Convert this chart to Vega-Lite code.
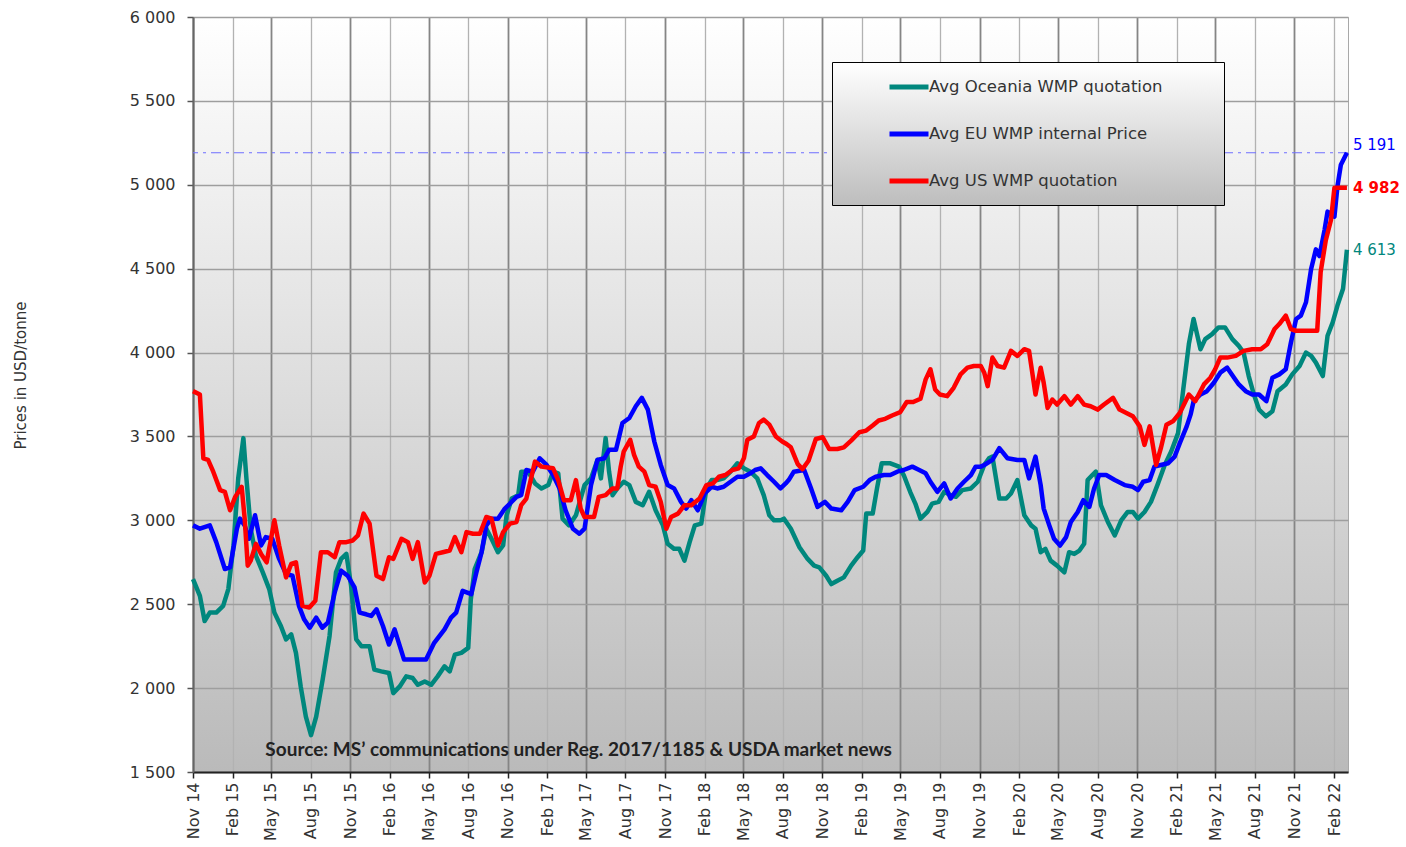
{
  "$schema": "https://vega.github.io/schema/vega-lite/v6.json",
  "width": 1155,
  "height": 755,
  "autosize": "none",
  "padding": {"left": 193, "top": 17, "right": 58, "bottom": 75},
  "background": "white",
  "view": {
    "fill": {"gradient": "linear", "x1": 0, "y1": 0, "x2": 0, "y2": 1,
      "stops": [{"offset": 0, "color": "#ffffff"}, {"offset": 1, "color": "#bababa"}]},
    "stroke": "#a8a8a8",
    "strokeWidth": 1
  },
  "config": {
    "font": "DejaVu Sans",
    "axis": {"labelFont": "DejaVu Sans", "labelColor": "#333333", "titleColor": "#333333"}
  },
  "datasets": {
    "ends": [
      {"s": "EU", "d": "2022-03-03", "v": 5191, "t": "5 191"},
      {"s": "US", "d": "2022-03-03", "v": 4982, "t": "4 982"},
      {"s": "Oceania", "d": "2022-03-03", "v": 4613, "t": "4 613"}
    ],
    "source": [
      {"d": "2015-04-18", "v": 1631, "t": "Source: MS’ communications under Reg. 2017/1185  & USDA market news"}
    ],
    "oceania": [
      {"d":"2014-11-01","v":2650},{"d":"2014-11-17","v":2550},{"d":"2014-11-28","v":2400},{"d":"2014-12-10","v":2450},{"d":"2014-12-25","v":2450},
      {"d":"2015-01-10","v":2490},{"d":"2015-01-22","v":2590},{"d":"2015-02-03","v":2850},{"d":"2015-02-14","v":3250},{"d":"2015-02-26","v":3490},
      {"d":"2015-03-05","v":3250},{"d":"2015-03-15","v":2950},{"d":"2015-03-27","v":2790},{"d":"2015-04-12","v":2690},{"d":"2015-04-27","v":2590},
      {"d":"2015-05-09","v":2450},{"d":"2015-05-24","v":2370},{"d":"2015-06-05","v":2290},{"d":"2015-06-17","v":2320},{"d":"2015-06-28","v":2210},
      {"d":"2015-07-09","v":2010},{"d":"2015-07-21","v":1830},{"d":"2015-08-02","v":1720},{"d":"2015-08-14","v":1830},{"d":"2015-08-29","v":2050},
      {"d":"2015-09-14","v":2310},{"d":"2015-09-29","v":2690},{"d":"2015-10-11","v":2770},{"d":"2015-10-23","v":2800},{"d":"2015-11-03","v":2610},
      {"d":"2015-11-15","v":2290},{"d":"2015-11-27","v":2250},{"d":"2015-12-16","v":2250},{"d":"2015-12-27","v":2110},{"d":"2016-01-12","v":2100},
      {"d":"2016-01-30","v":2090},{"d":"2016-02-09","v":1970},{"d":"2016-02-24","v":2010},{"d":"2016-03-10","v":2070},{"d":"2016-03-25","v":2060},
      {"d":"2016-04-06","v":2020},{"d":"2016-04-22","v":2040},{"d":"2016-05-07","v":2020},{"d":"2016-05-22","v":2070},{"d":"2016-06-07","v":2130},
      {"d":"2016-06-19","v":2100},{"d":"2016-07-01","v":2200},{"d":"2016-07-16","v":2210},{"d":"2016-08-01","v":2240},{"d":"2016-08-07","v":2530},
      {"d":"2016-08-16","v":2710},{"d":"2016-09-01","v":2810},{"d":"2016-09-12","v":2950},{"d":"2016-09-24","v":2890},{"d":"2016-10-09","v":2810},
      {"d":"2016-10-21","v":2850},{"d":"2016-10-29","v":3030},{"d":"2016-11-10","v":3130},{"d":"2016-11-25","v":3150},{"d":"2016-12-02","v":3290},
      {"d":"2016-12-18","v":3290},{"d":"2017-01-03","v":3220},{"d":"2017-01-18","v":3190},{"d":"2017-02-03","v":3210},{"d":"2017-02-14","v":3290},
      {"d":"2017-02-26","v":3280},{"d":"2017-03-08","v":3010},{"d":"2017-03-23","v":2970},{"d":"2017-04-08","v":3030},{"d":"2017-04-19","v":3130},
      {"d":"2017-04-28","v":3210},{"d":"2017-05-13","v":3250},{"d":"2017-05-28","v":3360},{"d":"2017-06-05","v":3250},{"d":"2017-06-16","v":3490},
      {"d":"2017-06-24","v":3290},{"d":"2017-07-02","v":3150},{"d":"2017-07-13","v":3190},{"d":"2017-07-28","v":3230},{"d":"2017-08-10","v":3210},
      {"d":"2017-08-25","v":3110},{"d":"2017-09-10","v":3090},{"d":"2017-09-25","v":3170},{"d":"2017-10-10","v":3060},{"d":"2017-10-27","v":2970},
      {"d":"2017-11-07","v":2860},{"d":"2017-11-22","v":2830},{"d":"2017-12-04","v":2830},{"d":"2017-12-16","v":2760},{"d":"2017-12-28","v":2870},
      {"d":"2018-01-09","v":2970},{"d":"2018-01-24","v":2980},{"d":"2018-02-05","v":3190},{"d":"2018-02-17","v":3240},{"d":"2018-03-02","v":3240},
      {"d":"2018-03-17","v":3250},{"d":"2018-04-02","v":3290},{"d":"2018-04-18","v":3340},{"d":"2018-05-03","v":3310},{"d":"2018-05-18","v":3290},
      {"d":"2018-06-03","v":3250},{"d":"2018-06-18","v":3150},{"d":"2018-07-01","v":3030},{"d":"2018-07-12","v":3000},{"d":"2018-07-27","v":3000},
      {"d":"2018-08-04","v":3010},{"d":"2018-08-20","v":2950},{"d":"2018-09-09","v":2840},{"d":"2018-09-28","v":2770},{"d":"2018-10-13","v":2730},
      {"d":"2018-10-25","v":2720},{"d":"2018-11-10","v":2670},{"d":"2018-11-22","v":2620},{"d":"2018-12-06","v":2640},{"d":"2018-12-21","v":2660},
      {"d":"2019-01-07","v":2730},{"d":"2019-01-22","v":2780},{"d":"2019-02-04","v":2820},{"d":"2019-02-11","v":3040},{"d":"2019-02-26","v":3040},
      {"d":"2019-03-08","v":3190},{"d":"2019-03-19","v":3340},{"d":"2019-04-08","v":3340},{"d":"2019-04-28","v":3320},{"d":"2019-05-09","v":3270},
      {"d":"2019-05-24","v":3170},{"d":"2019-06-05","v":3100},{"d":"2019-06-17","v":3010},{"d":"2019-07-03","v":3050},{"d":"2019-07-14","v":3100},
      {"d":"2019-07-29","v":3110},{"d":"2019-08-11","v":3170},{"d":"2019-08-26","v":3150},{"d":"2019-09-07","v":3140},{"d":"2019-09-22","v":3180},
      {"d":"2019-10-12","v":3190},{"d":"2019-10-28","v":3230},{"d":"2019-11-12","v":3330},{"d":"2019-11-23","v":3370},{"d":"2019-12-01","v":3380},
      {"d":"2019-12-17","v":3130},{"d":"2020-01-02","v":3130},{"d":"2020-01-13","v":3160},{"d":"2020-01-28","v":3240},{"d":"2020-02-13","v":3030},
      {"d":"2020-02-29","v":2970},{"d":"2020-03-10","v":2950},{"d":"2020-03-22","v":2810},{"d":"2020-04-02","v":2830},{"d":"2020-04-14","v":2760},
      {"d":"2020-04-29","v":2730},{"d":"2020-05-16","v":2690},{"d":"2020-05-27","v":2810},{"d":"2020-06-08","v":2800},{"d":"2020-06-20","v":2820},
      {"d":"2020-07-01","v":2860},{"d":"2020-07-09","v":3240},{"d":"2020-07-20","v":3270},{"d":"2020-07-28","v":3290},{"d":"2020-08-09","v":3090},
      {"d":"2020-08-25","v":2990},{"d":"2020-09-10","v":2910},{"d":"2020-09-25","v":3000},{"d":"2020-10-10","v":3050},{"d":"2020-10-22","v":3050},
      {"d":"2020-11-03","v":3010},{"d":"2020-11-18","v":3050},{"d":"2020-12-03","v":3110},{"d":"2020-12-18","v":3210},{"d":"2021-01-04","v":3330},
      {"d":"2021-01-19","v":3410},{"d":"2021-02-04","v":3520},{"d":"2021-02-16","v":3780},{"d":"2021-03-01","v":4050},{"d":"2021-03-12","v":4200},
      {"d":"2021-03-28","v":4020},{"d":"2021-04-08","v":4080},{"d":"2021-04-24","v":4110},{"d":"2021-05-09","v":4150},{"d":"2021-05-24","v":4150},
      {"d":"2021-06-10","v":4080},{"d":"2021-06-25","v":4040},{"d":"2021-07-06","v":4000},{"d":"2021-07-18","v":3860},{"d":"2021-07-30","v":3750},
      {"d":"2021-08-11","v":3660},{"d":"2021-08-27","v":3620},{"d":"2021-09-11","v":3650},{"d":"2021-09-23","v":3770},{"d":"2021-10-12","v":3810},
      {"d":"2021-10-27","v":3870},{"d":"2021-11-13","v":3920},{"d":"2021-11-28","v":4000},{"d":"2021-12-10","v":3980},{"d":"2021-12-21","v":3940},
      {"d":"2022-01-06","v":3860},{"d":"2022-01-17","v":4100},{"d":"2022-01-29","v":4180},{"d":"2022-02-09","v":4280},{"d":"2022-02-22","v":4380},
      {"d":"2022-03-03","v":4613}
    ],
    "eu": [
      {"d":"2014-11-01","v":2970},{"d":"2014-11-17","v":2950},{"d":"2014-12-10","v":2970},{"d":"2014-12-25","v":2870},{"d":"2015-01-14","v":2710},
      {"d":"2015-01-26","v":2720},{"d":"2015-02-11","v":2950},{"d":"2015-02-18","v":3010},{"d":"2015-03-01","v":2970},{"d":"2015-03-11","v":2890},
      {"d":"2015-03-25","v":3030},{"d":"2015-04-08","v":2850},{"d":"2015-04-19","v":2900},{"d":"2015-05-04","v":2890},{"d":"2015-05-20","v":2770},
      {"d":"2015-06-05","v":2680},{"d":"2015-06-20","v":2670},{"d":"2015-07-05","v":2490},{"d":"2015-07-17","v":2410},{"d":"2015-07-30","v":2360},
      {"d":"2015-08-14","v":2420},{"d":"2015-08-28","v":2360},{"d":"2015-09-10","v":2390},{"d":"2015-09-26","v":2570},{"d":"2015-10-11","v":2700},
      {"d":"2015-10-26","v":2670},{"d":"2015-11-11","v":2600},{"d":"2015-11-23","v":2450},{"d":"2015-12-08","v":2440},{"d":"2015-12-20","v":2430},
      {"d":"2016-01-01","v":2470},{"d":"2016-01-16","v":2370},{"d":"2016-01-30","v":2260},{"d":"2016-02-12","v":2350},{"d":"2016-03-05","v":2170},
      {"d":"2016-03-21","v":2170},{"d":"2016-04-25","v":2170},{"d":"2016-05-14","v":2270},{"d":"2016-06-07","v":2350},{"d":"2016-06-22","v":2420},
      {"d":"2016-07-04","v":2450},{"d":"2016-07-19","v":2580},{"d":"2016-08-08","v":2560},{"d":"2016-08-20","v":2690},{"d":"2016-09-01","v":2810},
      {"d":"2016-09-12","v":2970},{"d":"2016-09-24","v":3010},{"d":"2016-10-09","v":3010},{"d":"2016-10-25","v":3070},{"d":"2016-11-06","v":3100},
      {"d":"2016-11-21","v":3140},{"d":"2016-12-02","v":3150},{"d":"2016-12-14","v":3300},{"d":"2016-12-29","v":3290},{"d":"2017-01-14","v":3370},
      {"d":"2017-01-30","v":3330},{"d":"2017-02-14","v":3270},{"d":"2017-03-01","v":3190},{"d":"2017-03-15","v":3060},{"d":"2017-04-01","v":2950},
      {"d":"2017-04-16","v":2920},{"d":"2017-04-28","v":2950},{"d":"2017-05-13","v":3210},{"d":"2017-05-28","v":3360},{"d":"2017-06-13","v":3370},
      {"d":"2017-06-24","v":3420},{"d":"2017-07-10","v":3420},{"d":"2017-07-25","v":3580},{"d":"2017-08-10","v":3610},{"d":"2017-08-25","v":3680},
      {"d":"2017-09-08","v":3730},{"d":"2017-09-22","v":3660},{"d":"2017-10-07","v":3470},{"d":"2017-10-22","v":3330},{"d":"2017-11-07","v":3210},
      {"d":"2017-11-22","v":3190},{"d":"2017-12-08","v":3110},{"d":"2017-12-20","v":3070},{"d":"2018-01-01","v":3120},{"d":"2018-01-16","v":3060},
      {"d":"2018-02-01","v":3160},{"d":"2018-02-17","v":3200},{"d":"2018-03-02","v":3190},{"d":"2018-03-17","v":3200},{"d":"2018-04-02","v":3230},
      {"d":"2018-04-18","v":3260},{"d":"2018-05-03","v":3260},{"d":"2018-05-18","v":3280},{"d":"2018-05-29","v":3300},{"d":"2018-06-11","v":3310},
      {"d":"2018-06-26","v":3270},{"d":"2018-07-12","v":3230},{"d":"2018-07-27","v":3190},{"d":"2018-08-08","v":3220},{"d":"2018-08-15","v":3240},
      {"d":"2018-08-27","v":3290},{"d":"2018-09-20","v":3300},{"d":"2018-10-06","v":3190},{"d":"2018-10-21","v":3080},{"d":"2018-11-07","v":3110},
      {"d":"2018-11-22","v":3070},{"d":"2018-12-15","v":3060},{"d":"2018-12-30","v":3110},{"d":"2019-01-15","v":3180},{"d":"2019-02-04","v":3200},
      {"d":"2019-02-19","v":3240},{"d":"2019-03-05","v":3260},{"d":"2019-03-24","v":3270},{"d":"2019-04-08","v":3270},{"d":"2019-04-24","v":3290},
      {"d":"2019-05-09","v":3300},{"d":"2019-05-29","v":3320},{"d":"2019-06-14","v":3300},{"d":"2019-06-29","v":3280},{"d":"2019-07-10","v":3230},
      {"d":"2019-07-26","v":3170},{"d":"2019-08-11","v":3220},{"d":"2019-08-26","v":3130},{"d":"2019-09-11","v":3190},{"d":"2019-09-26","v":3230},
      {"d":"2019-10-12","v":3270},{"d":"2019-10-23","v":3320},{"d":"2019-11-04","v":3320},{"d":"2019-11-12","v":3330},{"d":"2019-12-01","v":3360},
      {"d":"2019-12-17","v":3430},{"d":"2020-01-05","v":3370},{"d":"2020-01-28","v":3360},{"d":"2020-02-13","v":3360},{"d":"2020-02-24","v":3250},
      {"d":"2020-03-10","v":3380},{"d":"2020-03-22","v":3210},{"d":"2020-03-29","v":3070},{"d":"2020-04-11","v":2970},{"d":"2020-04-22","v":2890},
      {"d":"2020-05-06","v":2850},{"d":"2020-05-20","v":2900},{"d":"2020-05-31","v":2990},{"d":"2020-06-16","v":3050},{"d":"2020-06-29","v":3120},
      {"d":"2020-07-13","v":3080},{"d":"2020-07-24","v":3190},{"d":"2020-08-05","v":3270},{"d":"2020-08-21","v":3270},{"d":"2020-09-10","v":3240},
      {"d":"2020-10-03","v":3210},{"d":"2020-10-22","v":3200},{"d":"2020-11-03","v":3180},{"d":"2020-11-15","v":3230},{"d":"2020-11-30","v":3240},
      {"d":"2020-12-11","v":3320},{"d":"2020-12-26","v":3330},{"d":"2021-01-12","v":3340},{"d":"2021-01-27","v":3380},{"d":"2021-02-08","v":3460},
      {"d":"2021-02-24","v":3560},{"d":"2021-03-05","v":3630},{"d":"2021-03-12","v":3710},{"d":"2021-03-28","v":3750},{"d":"2021-04-12","v":3770},
      {"d":"2021-04-28","v":3820},{"d":"2021-05-13","v":3880},{"d":"2021-05-29","v":3910},{"d":"2021-06-14","v":3850},{"d":"2021-06-25","v":3810},
      {"d":"2021-07-11","v":3770},{"d":"2021-07-26","v":3750},{"d":"2021-08-11","v":3750},{"d":"2021-08-28","v":3710},{"d":"2021-09-11","v":3850},
      {"d":"2021-09-27","v":3870},{"d":"2021-10-12","v":3900},{"d":"2021-10-24","v":4060},{"d":"2021-11-05","v":4200},{"d":"2021-11-16","v":4220},
      {"d":"2021-11-28","v":4300},{"d":"2021-12-10","v":4500},{"d":"2021-12-21","v":4615},{"d":"2021-12-29","v":4575},{"d":"2022-01-10","v":4730},
      {"d":"2022-01-17","v":4840},{"d":"2022-02-02","v":4810},{"d":"2022-02-09","v":4990},{"d":"2022-02-17","v":5120},{"d":"2022-03-03","v":5191}
    ],
    "us": [
      {"d":"2014-11-01","v":3770},{"d":"2014-11-17","v":3750},{"d":"2014-11-25","v":3370},{"d":"2014-12-06","v":3360},{"d":"2014-12-18","v":3290},
      {"d":"2015-01-03","v":3180},{"d":"2015-01-14","v":3170},{"d":"2015-01-26","v":3060},{"d":"2015-02-07","v":3140},{"d":"2015-02-22","v":3200},
      {"d":"2015-03-01","v":3010},{"d":"2015-03-08","v":2730},{"d":"2015-03-15","v":2760},{"d":"2015-03-27","v":2860},{"d":"2015-04-08","v":2800},
      {"d":"2015-04-21","v":2750},{"d":"2015-05-09","v":3000},{"d":"2015-05-20","v":2850},{"d":"2015-06-05","v":2660},{"d":"2015-06-17","v":2740},
      {"d":"2015-06-28","v":2750},{"d":"2015-07-13","v":2490},{"d":"2015-07-29","v":2480},{"d":"2015-08-12","v":2520},{"d":"2015-08-25","v":2810},
      {"d":"2015-09-10","v":2810},{"d":"2015-09-26","v":2780},{"d":"2015-10-07","v":2870},{"d":"2015-10-23","v":2870},{"d":"2015-11-07","v":2880},
      {"d":"2015-11-19","v":2910},{"d":"2015-12-02","v":3040},{"d":"2015-12-16","v":2980},{"d":"2016-01-01","v":2670},{"d":"2016-01-16","v":2650},
      {"d":"2016-01-30","v":2780},{"d":"2016-02-09","v":2770},{"d":"2016-02-28","v":2890},{"d":"2016-03-14","v":2870},{"d":"2016-03-25","v":2770},
      {"d":"2016-04-06","v":2870},{"d":"2016-04-22","v":2630},{"d":"2016-05-03","v":2670},{"d":"2016-05-18","v":2800},{"d":"2016-06-03","v":2810},
      {"d":"2016-06-19","v":2820},{"d":"2016-07-01","v":2900},{"d":"2016-07-16","v":2810},{"d":"2016-07-28","v":2930},{"d":"2016-08-12","v":2920},
      {"d":"2016-08-28","v":2920},{"d":"2016-09-12","v":3020},{"d":"2016-09-24","v":3010},{"d":"2016-10-09","v":2850},{"d":"2016-10-21","v":2930},
      {"d":"2016-11-06","v":2980},{"d":"2016-11-21","v":2990},{"d":"2016-12-02","v":3090},{"d":"2016-12-14","v":3130},{"d":"2017-01-03","v":3350},
      {"d":"2017-01-18","v":3320},{"d":"2017-02-14","v":3310},{"d":"2017-02-26","v":3240},{"d":"2017-03-11","v":3120},{"d":"2017-03-27","v":3120},
      {"d":"2017-04-08","v":3240},{"d":"2017-04-19","v":3070},{"d":"2017-04-28","v":3020},{"d":"2017-05-20","v":3020},{"d":"2017-05-31","v":3140},
      {"d":"2017-06-16","v":3150},{"d":"2017-07-02","v":3190},{"d":"2017-07-13","v":3190},{"d":"2017-07-21","v":3320},{"d":"2017-07-28","v":3410},
      {"d":"2017-08-12","v":3480},{"d":"2017-08-21","v":3390},{"d":"2017-09-01","v":3320},{"d":"2017-09-14","v":3290},{"d":"2017-09-25","v":3210},
      {"d":"2017-10-10","v":3200},{"d":"2017-10-22","v":3110},{"d":"2017-11-04","v":2950},{"d":"2017-11-15","v":3020},{"d":"2017-12-01","v":3040},
      {"d":"2017-12-16","v":3090},{"d":"2018-01-01","v":3090},{"d":"2018-01-20","v":3130},{"d":"2018-02-05","v":3210},{"d":"2018-02-20","v":3220},
      {"d":"2018-03-06","v":3260},{"d":"2018-03-21","v":3270},{"d":"2018-04-06","v":3300},{"d":"2018-04-21","v":3310},{"d":"2018-05-03","v":3370},
      {"d":"2018-05-11","v":3480},{"d":"2018-05-26","v":3500},{"d":"2018-06-07","v":3580},{"d":"2018-06-18","v":3600},{"d":"2018-07-01","v":3570},
      {"d":"2018-07-16","v":3500},{"d":"2018-07-31","v":3470},{"d":"2018-08-10","v":3455},{"d":"2018-08-20","v":3435},{"d":"2018-09-05","v":3335},
      {"d":"2018-09-16","v":3305},{"d":"2018-09-30","v":3355},{"d":"2018-10-17","v":3485},{"d":"2018-11-02","v":3495},{"d":"2018-11-17","v":3425},
      {"d":"2018-12-06","v":3425},{"d":"2018-12-21","v":3435},{"d":"2019-01-07","v":3475},{"d":"2019-01-26","v":3525},{"d":"2019-02-11","v":3535},
      {"d":"2019-02-26","v":3565},{"d":"2019-03-12","v":3595},{"d":"2019-03-27","v":3605},{"d":"2019-04-12","v":3625},{"d":"2019-05-01","v":3645},
      {"d":"2019-05-16","v":3705},{"d":"2019-05-31","v":3705},{"d":"2019-06-17","v":3725},{"d":"2019-06-29","v":3840},{"d":"2019-07-10","v":3900},
      {"d":"2019-07-21","v":3780},{"d":"2019-08-01","v":3750},{"d":"2019-08-18","v":3740},{"d":"2019-09-02","v":3790},{"d":"2019-09-18","v":3870},
      {"d":"2019-10-04","v":3910},{"d":"2019-10-19","v":3920},{"d":"2019-11-04","v":3920},{"d":"2019-11-12","v":3880},{"d":"2019-11-20","v":3800},
      {"d":"2019-12-01","v":3970},{"d":"2019-12-13","v":3920},{"d":"2019-12-28","v":3910},{"d":"2020-01-13","v":4010},{"d":"2020-01-28","v":3980},
      {"d":"2020-02-13","v":4020},{"d":"2020-02-24","v":4010},{"d":"2020-03-10","v":3750},{"d":"2020-03-22","v":3910},{"d":"2020-03-29","v":3820},
      {"d":"2020-04-07","v":3670},{"d":"2020-04-18","v":3720},{"d":"2020-04-29","v":3690},{"d":"2020-05-16","v":3740},{"d":"2020-05-31","v":3690},
      {"d":"2020-06-16","v":3740},{"d":"2020-07-01","v":3690},{"d":"2020-07-16","v":3680},{"d":"2020-08-01","v":3660},{"d":"2020-08-16","v":3690},
      {"d":"2020-09-06","v":3730},{"d":"2020-09-21","v":3660},{"d":"2020-10-07","v":3640},{"d":"2020-10-22","v":3620},{"d":"2020-11-07","v":3560},
      {"d":"2020-11-18","v":3450},{"d":"2020-11-30","v":3560},{"d":"2020-12-15","v":3330},{"d":"2020-12-26","v":3430},{"d":"2021-01-08","v":3570},
      {"d":"2021-01-23","v":3590},{"d":"2021-02-08","v":3640},{"d":"2021-03-01","v":3750},{"d":"2021-03-16","v":3710},{"d":"2021-04-05","v":3810},
      {"d":"2021-04-20","v":3850},{"d":"2021-05-01","v":3900},{"d":"2021-05-13","v":3970},{"d":"2021-05-29","v":3970},{"d":"2021-06-18","v":3980},
      {"d":"2021-07-06","v":4010},{"d":"2021-07-26","v":4020},{"d":"2021-08-15","v":4020},{"d":"2021-08-30","v":4050},{"d":"2021-09-16","v":4140},
      {"d":"2021-09-27","v":4170},{"d":"2021-10-12","v":4220},{"d":"2021-10-24","v":4140},{"d":"2021-11-05","v":4130},{"d":"2021-11-28","v":4130},
      {"d":"2021-12-24","v":4130},{"d":"2022-01-01","v":4480},{"d":"2022-01-13","v":4670},{"d":"2022-01-25","v":4790},{"d":"2022-02-02","v":4982},
      {"d":"2022-03-03","v":4982}
    ]
  },
  "layer": [
    {
      "data": {"name": "ends"},
      "transform": [{"filter": "datum.s == 'EU'"}],
      "mark": {"type": "rule", "color": "#6f6fff", "strokeWidth": 1.2, "strokeDash": [10, 5, 3, 5]},
      "encoding": {
        "y": {
          "field": "v", "type": "quantitative",
          "scale": {"domain": [1500, 6000], "nice": false, "zero": false},
          "axis": {
            "title": "Prices in USD/tonne",
            "titleFontSize": 15,
            "titleFontWeight": "normal",
            "titleAngle": 270,
            "titleX": -173,
            "titleY": 358,
            "titleAlign": "center",
            "titleBaseline": "middle",
            "values": [1500, 2000, 2500, 3000, 3500, 4000, 4500, 5000, 5500, 6000],
            "labelExpr": "replace(format(datum.value, ','), ',', ' ')",
            "labelFontSize": 16,
            "labelPadding": 12,
            "labelFlush": false,
            "tickSize": 6,
            "tickColor": "#555555",
            "tickWidth": 1.5,
            "domainColor": "#666666",
            "domainWidth": 2,
            "grid": true,
            "gridColor": "#9e9e9e",
            "gridWidth": 1.3
          }
        }
      }
    },
    {
      "encoding": {
        "x": {
          "field": "d", "type": "temporal",
          "scale": {"type": "utc", "domain": [{"year": 2014, "month": 11, "date": 1, "utc": true}, {"year": 2022, "month": 3, "date": 5, "hours": 12, "utc": true}]},
          "axis": {
            "title": null,
            "values": [
              {"year":2014,"month":11,"date":1,"utc":true},
              {"year":2015,"month":2,"date":1,"utc":true},{"year":2015,"month":5,"date":1,"utc":true},{"year":2015,"month":8,"date":1,"utc":true},{"year":2015,"month":11,"date":1,"utc":true},
              {"year":2016,"month":2,"date":1,"utc":true},{"year":2016,"month":5,"date":1,"utc":true},{"year":2016,"month":8,"date":1,"utc":true},{"year":2016,"month":11,"date":1,"utc":true},
              {"year":2017,"month":2,"date":1,"utc":true},{"year":2017,"month":5,"date":1,"utc":true},{"year":2017,"month":8,"date":1,"utc":true},{"year":2017,"month":11,"date":1,"utc":true},
              {"year":2018,"month":2,"date":1,"utc":true},{"year":2018,"month":5,"date":1,"utc":true},{"year":2018,"month":8,"date":1,"utc":true},{"year":2018,"month":11,"date":1,"utc":true},
              {"year":2019,"month":2,"date":1,"utc":true},{"year":2019,"month":5,"date":1,"utc":true},{"year":2019,"month":8,"date":1,"utc":true},{"year":2019,"month":11,"date":1,"utc":true},
              {"year":2020,"month":2,"date":1,"utc":true},{"year":2020,"month":5,"date":1,"utc":true},{"year":2020,"month":8,"date":1,"utc":true},{"year":2020,"month":11,"date":1,"utc":true},
              {"year":2021,"month":2,"date":1,"utc":true},{"year":2021,"month":5,"date":1,"utc":true},{"year":2021,"month":8,"date":1,"utc":true},{"year":2021,"month":11,"date":1,"utc":true},
              {"year":2022,"month":2,"date":1,"utc":true}
            ],
            "labelExpr": "utcFormat(datum.value, '%b %y')",
            "labelAngle": 270,
            "labelFontSize": 16,
            "labelPadding": 4,
            "labelOverlap": false,
            "labelFlush": false,
            "tickSize": 6,
            "tickColor": "#222222",
            "tickWidth": 1.5,
            "domainColor": "#222222",
            "domainWidth": 2,
            "grid": true,
            "gridColor": {"condition": {"test": "utcmonth(datum.value) == 4 || utcmonth(datum.value) == 10", "value": "#858585"}, "value": "#b2b2b2"},
            "gridWidth": {"condition": {"test": "utcmonth(datum.value) == 4 || utcmonth(datum.value) == 10", "value": 1.8}, "value": 1.3}
          }
        },
        "y": {
          "field": "v", "type": "quantitative",
          "scale": {"domain": [1500, 6000], "nice": false, "zero": false},
          "axis": {
            "title": "Prices in USD/tonne",
            "titleFontSize": 15,
            "titleFontWeight": "normal",
            "titleAngle": 270,
            "titleX": -173,
            "titleY": 358,
            "titleAlign": "center",
            "titleBaseline": "middle",
            "values": [1500, 2000, 2500, 3000, 3500, 4000, 4500, 5000, 5500, 6000],
            "labelExpr": "replace(format(datum.value, ','), ',', ' ')",
            "labelFontSize": 16,
            "labelPadding": 12,
            "labelFlush": false,
            "tickSize": 6,
            "tickColor": "#555555",
            "tickWidth": 1.5,
            "domainColor": "#666666",
            "domainWidth": 2,
            "grid": true,
            "gridColor": "#9e9e9e",
            "gridWidth": 1.3
          }
        }
      },
      "layer": [
        {
          "data": {"name": "oceania"},
          "mark": {"type": "line", "strokeWidth": 4.5, "strokeJoin": "round"},
          "encoding": {
            "color": {
              "datum": "Oceania",
              "scale": {"domain": ["Oceania", "EU", "US"], "range": ["#00877d", "#0000ff", "#ff0000"]},
              "legend": {
                "title": "\u200b",
                "titleOrient": "bottom",
                "titleFontSize": 6,
                "titlePadding": 5,
                "orient": "none",
                "legendX": 639,
                "legendY": 45,
                "symbolType": "stroke",
                "symbolSize": 1521,
                "symbolStrokeWidth": 5,
                "symbolOffset": 52,
                "labelFont": "DejaVu Sans",
                "labelFontSize": 16.5,
                "labelColor": "#333333",
                "labelOffset": -2,
                "labelLimit": 600,
                "rowPadding": 15,
                "padding": 3,
                "strokeColor": "#000000",
                "fillColor": {"value": {"gradient": "linear", "x1": 0, "y1": 0, "x2": 0, "y2": 1, "stops": [{"offset": 0, "color": "#ffffff"}, {"offset": 1, "color": "#bdbdbd"}]}},
                "labelExpr": "(datum.label == 'Oceania' ? 'Avg Oceania WMP quotation' : datum.label == 'EU' ? 'Avg EU WMP internal Price' : 'Avg US WMP quotation') + '           \u200b'"
              }
            }
          }
        },
        {
          "data": {"name": "eu"},
          "mark": {"type": "line", "strokeWidth": 4.5, "strokeJoin": "round"},
          "encoding": {"color": {"datum": "EU"}}
        },
        {
          "data": {"name": "us"},
          "mark": {"type": "line", "strokeWidth": 4.5, "strokeJoin": "round"},
          "encoding": {"color": {"datum": "US"}}
        },
        {
          "data": {"name": "ends"},
          "mark": {"type": "text", "align": "left", "baseline": "middle", "dx": 6, "fontSize": 15,
            "dy": {"expr": "datum.s == 'EU' ? -8 : 0"},
            "fontWeight": {"expr": "datum.s == 'US' ? 'bold' : 'normal'"}},
          "encoding": {
            "text": {"field": "t"},
            "color": {"field": "s", "legend": null}
          }
        },
        {
          "data": {"name": "source"},
          "mark": {"type": "text", "align": "left", "baseline": "middle", "font": "Lato", "fontSize": 19, "fontWeight": "bold", "color": "#222222"},
          "encoding": {"text": {"field": "t"}}
        }
      ]
    }
  ]
}
